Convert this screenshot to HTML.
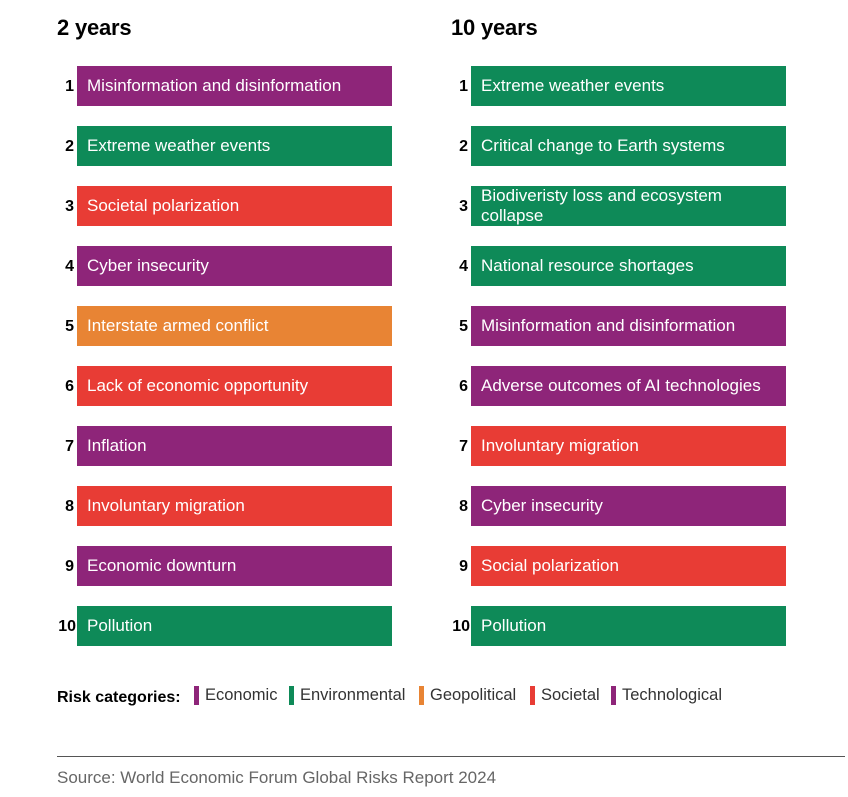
<!DOCTYPE html>
<html><head><meta charset="utf-8">
<style>
*{margin:0;padding:0;box-sizing:border-box}
html,body{width:848px;height:797px;background:#fff;overflow:hidden}
body{position:relative;font-family:"Liberation Sans",Arial,sans-serif;color:#111}
.h{position:absolute;top:15px;font-size:22px;font-weight:bold;letter-spacing:-0.2px;color:#000}
.bar{position:absolute;width:315px;height:40px;color:#fff;font-size:17px;line-height:20px;padding-left:10px;display:flex;align-items:center}
.n{position:absolute;width:40px;text-align:right;font-size:16px;font-weight:bold;height:40px;line-height:40px;color:#000}
.p{background:#8E2579}.g{background:#0E8A58}.r{background:#E83C35}.o{background:#E88434}
.leg{position:absolute;top:686px;height:19px;width:5px}
.lt{position:absolute;top:685px;font-size:16.5px;color:#333;line-height:20px}
</style></head><body>
<div class="h" style="left:57px">2 years</div>
<div class="h" style="left:451px">10 years</div>

<div class="n" style="left:34px;top:67px">1</div><div class="bar p" style="left:77px;top:66px">Misinformation and disinformation</div>
<div class="n" style="left:34px;top:127px">2</div><div class="bar g" style="left:77px;top:126px">Extreme weather events</div>
<div class="n" style="left:34px;top:187px">3</div><div class="bar r" style="left:77px;top:186px">Societal polarization</div>
<div class="n" style="left:34px;top:247px">4</div><div class="bar p" style="left:77px;top:246px">Cyber insecurity</div>
<div class="n" style="left:34px;top:307px">5</div><div class="bar o" style="left:77px;top:306px">Interstate armed conflict</div>
<div class="n" style="left:34px;top:367px">6</div><div class="bar r" style="left:77px;top:366px">Lack of economic opportunity</div>
<div class="n" style="left:34px;top:427px">7</div><div class="bar p" style="left:77px;top:426px">Inflation</div>
<div class="n" style="left:34px;top:487px">8</div><div class="bar r" style="left:77px;top:486px">Involuntary migration</div>
<div class="n" style="left:34px;top:547px">9</div><div class="bar p" style="left:77px;top:546px">Economic downturn</div>
<div class="n" style="left:36px;top:607px">10</div><div class="bar g" style="left:77px;top:606px">Pollution</div>

<div class="n" style="left:428px;top:67px">1</div><div class="bar g" style="left:471px;top:66px">Extreme weather events</div>
<div class="n" style="left:428px;top:127px">2</div><div class="bar g" style="left:471px;top:126px">Critical change to Earth systems</div>
<div class="n" style="left:428px;top:187px">3</div><div class="bar g" style="left:471px;top:186px;padding-right:40px">Biodiveristy loss and ecosystem collapse</div>
<div class="n" style="left:428px;top:247px">4</div><div class="bar g" style="left:471px;top:246px">National resource shortages</div>
<div class="n" style="left:428px;top:307px">5</div><div class="bar p" style="left:471px;top:306px">Misinformation and disinformation</div>
<div class="n" style="left:428px;top:367px">6</div><div class="bar p" style="left:471px;top:366px">Adverse outcomes of AI technologies</div>
<div class="n" style="left:428px;top:427px">7</div><div class="bar r" style="left:471px;top:426px">Involuntary migration</div>
<div class="n" style="left:428px;top:487px">8</div><div class="bar p" style="left:471px;top:486px">Cyber insecurity</div>
<div class="n" style="left:428px;top:547px">9</div><div class="bar r" style="left:471px;top:546px">Social polarization</div>
<div class="n" style="left:430px;top:607px">10</div><div class="bar g" style="left:471px;top:606px">Pollution</div>

<div style="position:absolute;left:57px;top:688px;font-size:16px;font-weight:bold;color:#000;line-height:20px">Risk categories:</div>
<div class="leg p" style="left:194px"></div><div class="lt" style="left:205px">Economic</div>
<div class="leg g" style="left:289px"></div><div class="lt" style="left:300px">Environmental</div>
<div class="leg o" style="left:419px"></div><div class="lt" style="left:430px">Geopolitical</div>
<div class="leg r" style="left:530px"></div><div class="lt" style="left:541px">Societal</div>
<div class="leg p" style="left:611px"></div><div class="lt" style="left:622px">Technological</div>

<div style="position:absolute;left:57px;top:756px;width:788px;height:1px;background:#555"></div>
<div style="position:absolute;left:57px;top:768px;font-size:17px;color:#666;line-height:20px">Source: World Economic Forum Global Risks Report 2024</div>
</body></html>
